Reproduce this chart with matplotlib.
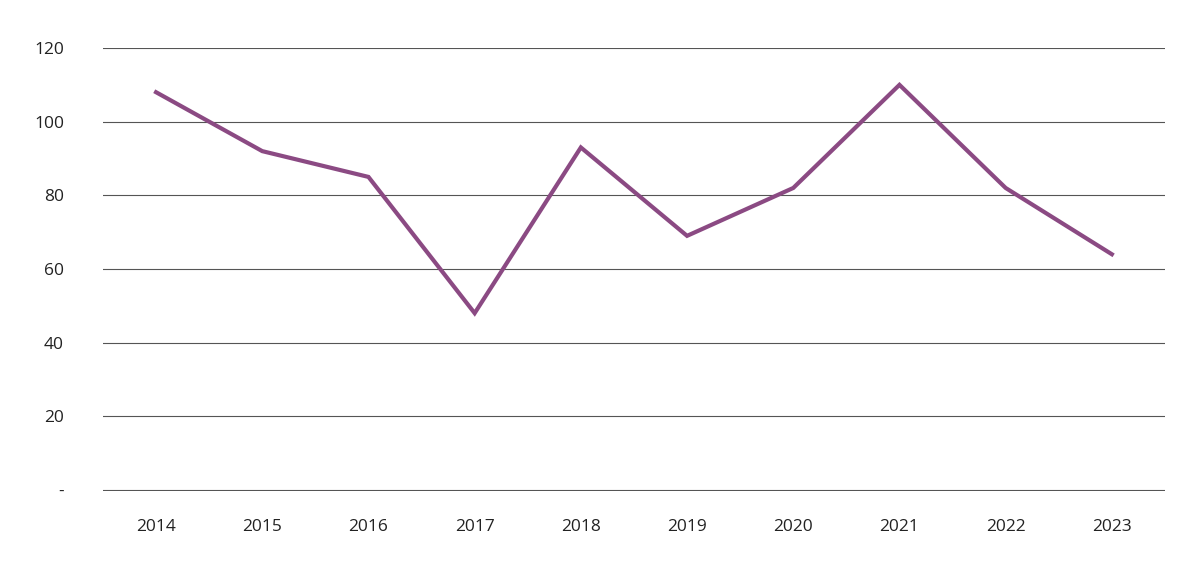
import matplotlib.pyplot as plt

years = ["2014", "2015", "2016", "2017", "2018", "2019", "2020", "2021", "2022", "2023"]
values = [108, 92, 85, 48, 93, 69, 82, 110, 82, 64]
yticks = [0, 20, 40, 60, 80, 100, 120]
ylabels = ["-", "20", "40", "60", "80", "100", "120"]

plt.rcParams["font.family"] = "Open Sans"
fig = plt.figure(figsize=(12, 5.69), dpi=100)
ax = fig.add_axes([0.0858, 0.137, 0.885, 0.7786])
x = list(range(len(years)))
ax.plot(x, values, color="#8B4A83", lw=3, solid_joinstyle="miter", zorder=3)
ax.set_xlim(-0.5, len(years) - 0.5)
ax.set_ylim(-0.3, 120)
ax.set_xticks(x, years)
ax.set_yticks(yticks, ylabels)
ax.grid(axis="y", color="#555555", lw=0.8)
for s in ax.spines.values():
    s.set_visible(False)
ax.tick_params(length=0, labelsize=12.5, colors="#222222")
ax.tick_params(axis="x", pad=20)
ax.tick_params(axis="y", pad=28)
fig.savefig("out.png")
